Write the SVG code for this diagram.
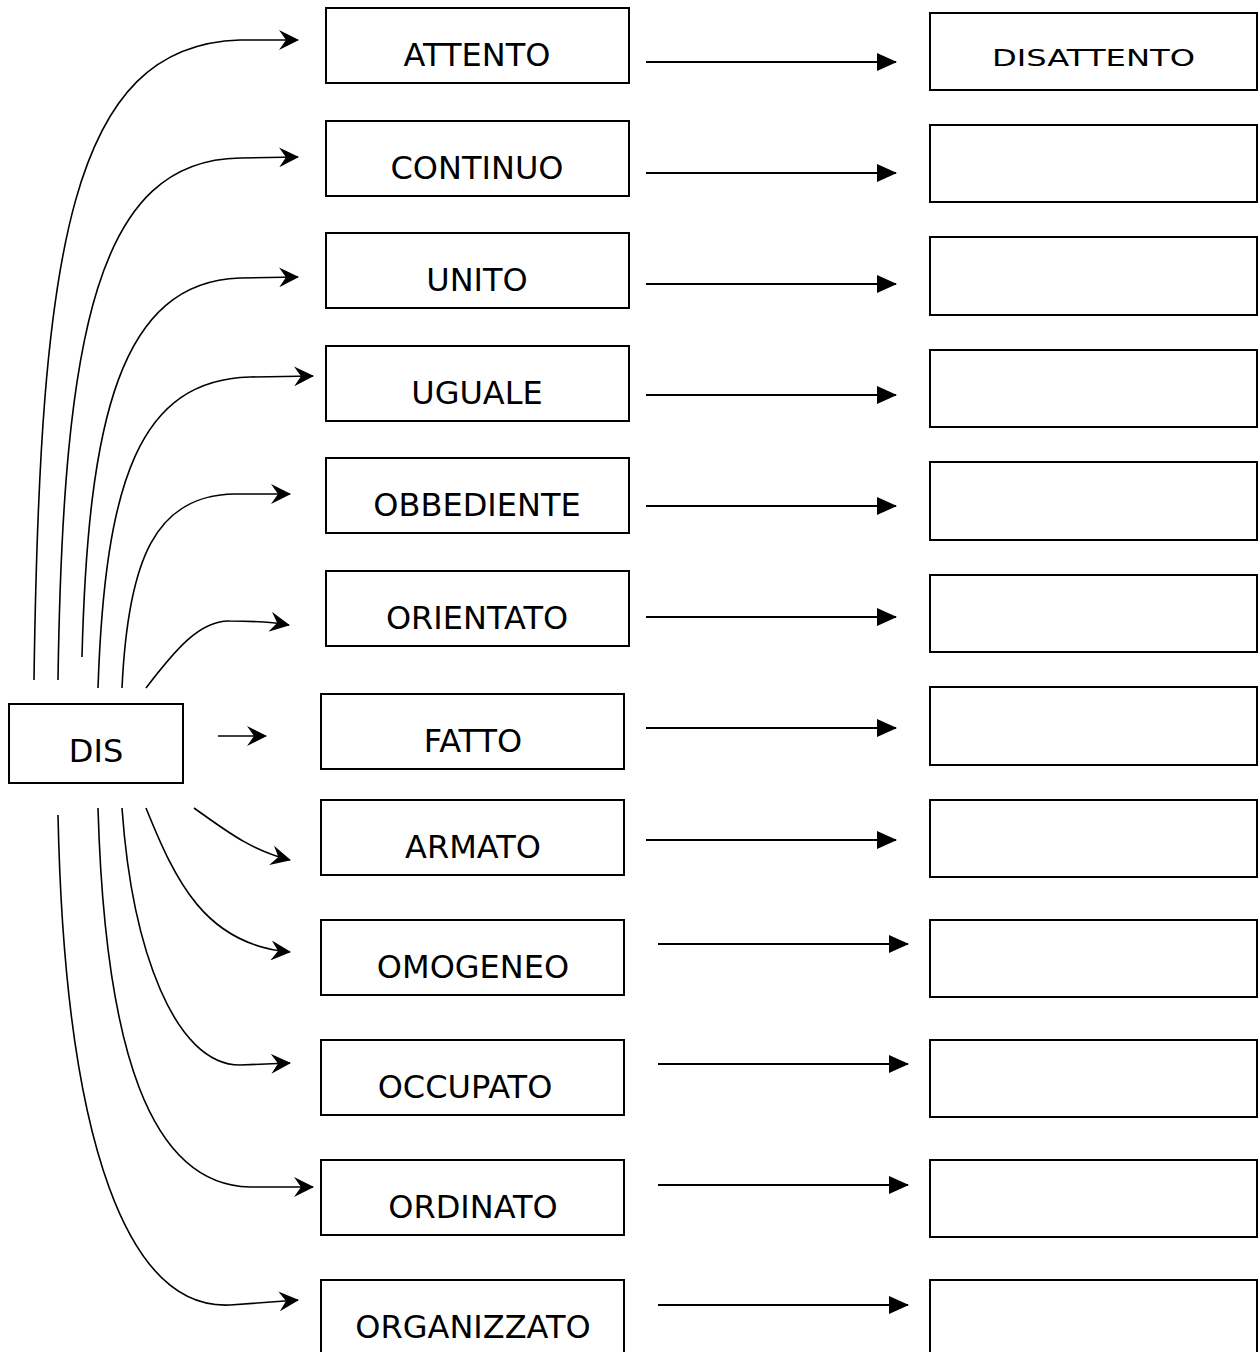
<svg xmlns="http://www.w3.org/2000/svg" width="1258" height="1352" viewBox="0 0 1258 1352">
<style>
.box{fill:#fff;stroke:#000;stroke-width:2}
.lbl{font-family:"DejaVu Sans","Liberation Sans",sans-serif;font-size:32px;fill:#000;text-anchor:middle}
.hand{font-family:"DejaVu Sans","Liberation Sans",sans-serif;font-size:23px;fill:#000}
.cv{fill:none;stroke:#000;stroke-width:1.6;marker-end:url(#stealth)}
.st{fill:none;stroke:#000;stroke-width:2;marker-end:url(#tri)}
</style>
<defs>
<marker id="stealth" viewBox="0 0 20 20" refX="19" refY="10" markerWidth="20" markerHeight="20" markerUnits="userSpaceOnUse" orient="auto">
<path d="M0,0 L20,10 L0,20 L7,10 Z" fill="#000"/>
</marker>
<marker id="tri" viewBox="0 0 20 18" refX="19" refY="9" markerWidth="20" markerHeight="18" markerUnits="userSpaceOnUse" orient="auto">
<path d="M0,0 L20,9 L0,18 Z" fill="#000"/>
</marker>
</defs>
<rect width="1258" height="1352" fill="#fff"/>
<g id="connectors">
<path class="cv" d="M34,680 C40,250 70,45 240,40 L298,40"/>
<path class="cv" d="M58,680 C63,330 98,160 240,158 L298,157"/>
<path class="cv" d="M82,657 C88,420 120,282 240,278 L298,277"/>
<path class="cv" d="M98,688 C105,480 140,380 250,377 L313,376"/>
<path class="cv" d="M122,688 C128,560 155,495 235,494 L290,494"/>
<path class="cv" d="M146,688 C175,650 200,620 230,621 C255,621 272,622 289,625"/>
<path class="cv" d="M218,736 L266,736"/>
<path class="cv" d="M194,808 C225,830 250,850 290,860"/>
<path class="cv" d="M146,808 C175,880 205,945 290,952"/>
<path class="cv" d="M122,808 C132,950 175,1065 240,1065 L290,1063"/>
<path class="cv" d="M98,808 C105,1050 150,1185 250,1187 L313,1187"/>
<path class="cv" d="M58,815 C65,1150 130,1310 230,1305 L298,1300"/>
<path class="st" d="M646,62 L896,62"/>
<path class="st" d="M646,173 L896,173"/>
<path class="st" d="M646,284 L896,284"/>
<path class="st" d="M646,395 L896,395"/>
<path class="st" d="M646,506 L896,506"/>
<path class="st" d="M646,617 L896,617"/>
<path class="st" d="M646,728 L896,728"/>
<path class="st" d="M646,840 L896,840"/>
<path class="st" d="M658,944 L908,944"/>
<path class="st" d="M658,1064 L908,1064"/>
<path class="st" d="M658,1185 L908,1185"/>
<path class="st" d="M658,1305 L908,1305"/>
</g>
<g id="n-dis"><rect class="box" x="9" y="704" width="174" height="79"/><text class="lbl" x="96" y="762">DIS</text></g>
<g id="n-attento"><rect class="box" x="326" y="8" width="303" height="75"/><text class="lbl" x="477" y="66">ATTENTO</text></g>
<g id="n-continuo"><rect class="box" x="326" y="121" width="303" height="75"/><text class="lbl" x="477" y="179">CONTINUO</text></g>
<g id="n-unito"><rect class="box" x="326" y="233" width="303" height="75"/><text class="lbl" x="477" y="291">UNITO</text></g>
<g id="n-uguale"><rect class="box" x="326" y="346" width="303" height="75"/><text class="lbl" x="477" y="404">UGUALE</text></g>
<g id="n-obbediente"><rect class="box" x="326" y="458" width="303" height="75"/><text class="lbl" x="477" y="516">OBBEDIENTE</text></g>
<g id="n-orientato"><rect class="box" x="326" y="571" width="303" height="75"/><text class="lbl" x="477" y="629">ORIENTATO</text></g>
<g id="n-fatto"><rect class="box" x="321" y="694" width="303" height="75"/><text class="lbl" x="473" y="752">FATTO</text></g>
<g id="n-armato"><rect class="box" x="321" y="800" width="303" height="75"/><text class="lbl" x="473" y="858">ARMATO</text></g>
<g id="n-omogeneo"><rect class="box" x="321" y="920" width="303" height="75"/><text class="lbl" x="473" y="978">OMOGENEO</text></g>
<g id="n-occupato"><rect class="box" x="321" y="1040" width="303" height="75"/><text class="lbl" x="465" y="1098">OCCUPATO</text></g>
<g id="n-ordinato"><rect class="box" x="321" y="1160" width="303" height="75"/><text class="lbl" x="473" y="1218">ORDINATO</text></g>
<g id="n-organizzato"><rect class="box" x="321" y="1280" width="303" height="80"/><text class="lbl" x="473" y="1338">ORGANIZZATO</text></g>
<g id="r1"><rect class="box" x="930" y="13" width="327" height="77"/><text class="hand" x="992" y="66" textLength="203" lengthAdjust="spacingAndGlyphs">DISATTENTO</text></g>
<g id="r2"><rect class="box" x="930" y="125" width="327" height="77"/></g>
<g id="r3"><rect class="box" x="930" y="237" width="327" height="78"/></g>
<g id="r4"><rect class="box" x="930" y="350" width="327" height="77"/></g>
<g id="r5"><rect class="box" x="930" y="462" width="327" height="78"/></g>
<g id="r6"><rect class="box" x="930" y="575" width="327" height="77"/></g>
<g id="r7"><rect class="box" x="930" y="687" width="327" height="78"/></g>
<g id="r8"><rect class="box" x="930" y="800" width="327" height="77"/></g>
<g id="r9"><rect class="box" x="930" y="920" width="327" height="77"/></g>
<g id="r10"><rect class="box" x="930" y="1040" width="327" height="77"/></g>
<g id="r11"><rect class="box" x="930" y="1160" width="327" height="77"/></g>
<g id="r12"><rect class="box" x="930" y="1280" width="327" height="80"/></g>
</svg>
